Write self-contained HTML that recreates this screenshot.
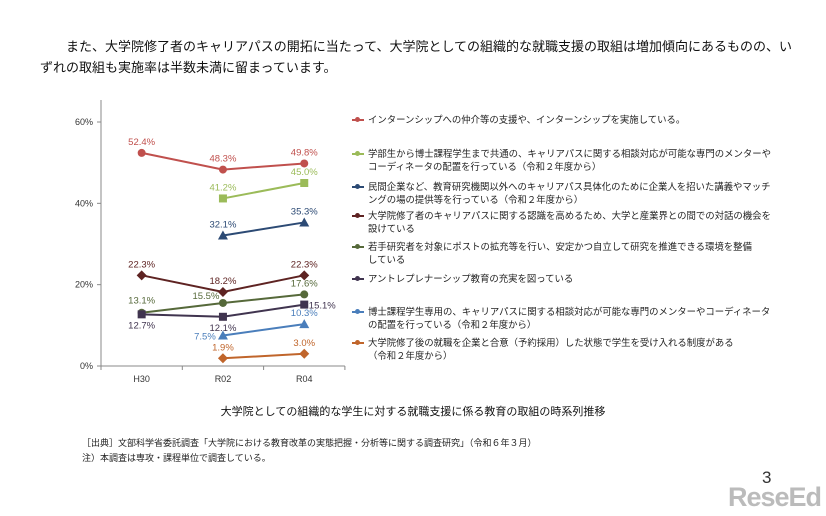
<!DOCTYPE html>
<html><head><meta charset="utf-8">
<style>
body{margin:0;width:826px;height:516px;background:#fff;overflow:hidden;position:relative;font-family:"Liberation Sans","Noto Sans CJK JP",sans-serif;}
.hdr{position:absolute;left:40px;top:36px;width:760px;font-size:13px;line-height:21px;color:#111;text-indent:26px;}
.leg{position:absolute;left:368px;font-size:9.4px;line-height:13px;color:#222;width:440px;white-space:pre-line;}
.sw{position:absolute;left:-16px;top:6px;width:12px;height:2px;}
.sw i{position:absolute;left:3px;top:-2px;width:5px;height:5px;border-radius:3px;}
.ttl{position:absolute;left:0;width:826px;top:403px;text-align:center;font-size:11px;color:#111;}
.src{position:absolute;left:82px;font-size:9px;color:#222;}
</style></head><body>
<div class="hdr">また、大学院修了者のキャリアパスの開拓に当たって、大学院としての組織的な就職支援の取組は増加傾向にあるものの、いずれの取組も実施率は半数未満に留まっています。</div>
<svg id="chart" width="826" height="516" style="position:absolute;left:0;top:0"></svg>
<div id="legend"></div>
<div class="ttl">大学院としての組織的な学生に対する就職支援に係る教育の取組の時系列推移</div>
<div class="src" style="top:436px">［出典］文部科学省委託調査「大学院における教育改革の実態把握・分析等に関する調査研究」（令和６年３月）</div>
<div class="src" style="top:451px">注）本調査は専攻・課程単位で調査している。</div>
<div style="position:absolute;left:762px;top:468px;font-size:17px;color:#333">3</div>
<div style="position:absolute;left:728px;top:482px;font-size:27px;font-weight:bold;color:#bbb;letter-spacing:-1px">ReseEd</div>
<script>
const categories=["H30","R02","R04"];
const yTicks=[0,20,40,60];
const s1=[52.4,48.3,49.8];
const s2=[null,41.2,45.0];
const s3=[null,32.1,35.3];
const s4=[22.3,18.2,22.3];
const s5=[13.1,15.5,17.6];
const s6=[12.7,12.1,15.1];
const s7=[null,7.5,10.3];
const s8=[null,1.9,3.0];
const names=["インターンシップへの仲介等の支援や、インターンシップを実施している。",
"学部生から博士課程学生まで共通の、キャリアパスに関する相談対応が可能な専門のメンターや\nコーディネータの配置を行っている（令和２年度から）",
"民間企業など、教育研究機関以外へのキャリアパス具体化のために企業人を招いた講義やマッチ\nングの場の提供等を行っている（令和２年度から）",
"大学院修了者のキャリアパスに関する認識を高めるため、大学と産業界との間での対話の機会を\n設けている",
"若手研究者を対象にポストの拡充等を行い、安定かつ自立して研究を推進できる環境を整備\nしている",
"アントレプレナーシップ教育の充実を図っている",
"博士課程学生専用の、キャリアパスに関する相談対応が可能な専門のメンターやコーディネータ\nの配置を行っている（令和２年度から）",
"大学院修了後の就職を企業と合意（予約採用）した状態で学生を受け入れる制度がある\n（令和２年度から）"];
const series=[s1,s2,s3,s4,s5,s6,s7,s8];
const colors=["#c0504d","#9bbb59","#2c4a74","#5e2322","#56693a","#40344f","#4a7ebb","#c0652b"];
const markers=["circle","square","triangle","diamond","circle","square","triangle","diamond"];
const labelColors=["#c0504d","#9bbb59","#2c4a74","#5e2322","#56693a","#40344f","#4a7ebb","#c0652b"];
const offs=[[[0,-8],[0,-8],[0,-8]],[[0,0],[0,-8],[0,-8]],[[0,0],[0,-8],[0,-8]],[[0,-8],[0,-8],[0,-8]],[[0,-9],[-17,-4],[0,-8]],[[0,14],[0,14],[18,4]],[[0,0],[-18,4],[0,-8]],[[0,0],[0,-8],[0,-8]]];
const legTops=[113,147,180,209,240,272,305,336];
const X0=101,XW=81.3,Y0=366,YS=244/60;
const x=i=>X0+XW*(i+0.5), y=v=>Y0-v*YS;
const svg=document.getElementById('chart'),NS="http://www.w3.org/2000/svg";
function el(t,a,p){const e=document.createElementNS(NS,t);for(const k in a)e.setAttribute(k,a[k]);(p||svg).appendChild(e);return e;}
let e=el('line',{x1:X0,y1:100,x2:X0,y2:Y0,stroke:"#888","stroke-width":1});

e=el('line',{x1:X0,y1:Y0,x2:X0+XW*3,y2:Y0,stroke:"#888","stroke-width":1});

yTicks.forEach(t=>{el('line',{x1:X0-4,y1:y(t),x2:X0,y2:y(t),stroke:"#888"});
 e=el('text',{x:X0-8,y:y(t)+3,"text-anchor":"end","font-size":9,fill:"#333"});e.textContent=t+"%";
 });
for(let i=0;i<=3;i++)el('line',{x1:X0+XW*i,y1:Y0,x2:X0+XW*i,y2:Y0+4,stroke:"#888"});
categories.forEach((c,i)=>{e=el('text',{x:x(i),y:Y0+16,"text-anchor":"middle","font-size":9,fill:"#333"});e.textContent=c;
 });
function marker(m,cx,cy,c,g){let r;
 if(m=="circle")r=el('circle',{cx,cy,r:4,fill:c},g);
 else if(m=="square")r=el('rect',{x:cx-4,y:cy-4,width:8,height:8,fill:c},g);
 else if(m=="triangle")r=el('polygon',{points:`${cx},${cy-5} ${cx+5},${cy+4} ${cx-5},${cy+4}`,fill:c},g);
 else r=el('polygon',{points:`${cx},${cy-5} ${cx+5},${cy} ${cx},${cy+5} ${cx-5},${cy}`,fill:c},g);
 return r;}
series.forEach((s,k)=>{const g=el('g',{});
 
 const pts=s.map((v,i)=>v==null?null:[x(i),y(v)]).filter(p=>p);
 el('polyline',{points:pts.map(p=>p.join(',')).join(' '),fill:"none",stroke:colors[k],"stroke-width":2},g);
 s.forEach((v,i)=>{if(v==null)return;const m=marker(markers[k],x(i),y(v),colors[k],g);
  
  const t=el('text',{x:x(i)+offs[k][i][0],y:y(v)+offs[k][i][1],"text-anchor":"middle","font-size":9.5,fill:labelColors[k]},g);
  t.textContent=v.toFixed(1)+"%";});
});
const L=document.getElementById('legend');
names.forEach((n,k)=>{const d=document.createElement('div');d.className='leg';d.style.top=legTops[k]+'px';
 
 
 d.innerHTML=`<span class="sw" style="background:${colors[k]}"><i style="background:${colors[k]}"></i></span>${n}`;L.appendChild(d);});
</script>
</body></html>
